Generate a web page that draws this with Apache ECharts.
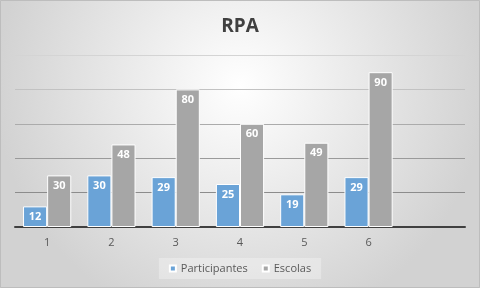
<!DOCTYPE html>
<html>
<head>
<meta charset="utf-8">
<script src="https://cdn.jsdelivr.net/npm/echarts@6/dist/echarts.min.js"></script>
<style>
  html, body { margin: 0; padding: 0; }
  #chart { width: 480px; height: 288px; }
</style>
</head>
<body>
<div id="chart"></div>
<script>
// dados do gráfico
const categories = ['1', '2', '3', '4', '5', '6', ''];
const participantes = [12, 30, 29, 25, 19, 29];
const escolas = [30, 48, 80, 60, 49, 90];
const seriesNames = ['Participantes', 'Escolas'];

const myChart = echarts.init(document.getElementById('chart'));

const barLabel = {
  show: true,
  position: 'insideTop',
  distance: 5,
  color: '#ffffff',
  fontSize: 11,
  fontWeight: 'bold',
  fontFamily: 'Open Sans',
};

myChart.setOption({
  animation: false,
  backgroundColor: {
    type: 'radial',
    x: 0.5,
    y: 0.3,
    r: 0.85,
    colorStops: [
      { offset: 0, color: '#ffffff' },
      { offset: 1, color: '#d2d2d2' },
    ],
  },
  graphic: [
    {
      type: 'rect',
      shape: { x: 0.5, y: 0.5, width: 479, height: 287 },
      style: { fill: 'none', stroke: '#bdbdbd', lineWidth: 1 },
      silent: true,
    },
  ],
  title: {
    text: 'RPA',
    left: 'center',
    top: 12,
    textStyle: {
      fontFamily: 'Open Sans',
      fontSize: 19,
      fontWeight: 'bold',
      color: '#404040',
    },
  },
  legend: {
    data: seriesNames,
    bottom: 9,
    left: 'center',
    icon: 'rect',
    itemWidth: 6,
    itemHeight: 6,
    itemGap: 14,
    padding: [5, 10, 5, 10],
    backgroundColor: 'rgba(255,255,255,0.3)',
    textStyle: {
      fontFamily: 'Open Sans',
      fontSize: 11,
      color: '#595959',
    },
  },
  grid: {
    left: 15,
    right: 15,
    top: 55,
    bottom: 61,
    containLabel: false,
  },
  xAxis: {
    type: 'category',
    data: categories,
    axisTick: { show: false },
    axisLine: { lineStyle: { color: '#404040', width: 2 } },
    axisLabel: {
      margin: 10,
      color: '#595959',
      fontSize: 11,
      fontFamily: 'Open Sans',
    },
  },
  yAxis: {
    type: 'value',
    min: 0,
    max: 100,
    interval: 20,
    axisLabel: { show: false },
    axisLine: { show: false },
    axisTick: { show: false },
    splitLine: {
      lineStyle: {
        color: ['#8c8c8c', '#8c8c8c', '#9a9a9a', '#ababab', '#c2c2c2', '#d4d4d4'],
        width: 1,
      },
    },
  },
  series: [
    {
      name: seriesNames[0],
      type: 'bar',
      data: participantes,
      barGap: '0%',
      barCategoryGap: '25%',
      itemStyle: { color: '#6aa3d7', borderColor: '#ffffff', borderWidth: 1 },
      label: barLabel,
    },
    {
      name: seriesNames[1],
      type: 'bar',
      data: escolas,
      barGap: '0%',
      barCategoryGap: '25%',
      itemStyle: { color: '#a6a6a6', borderColor: '#ffffff', borderWidth: 1 },
      label: barLabel,
    },
  ],
});
</script>
</body>
</html>
